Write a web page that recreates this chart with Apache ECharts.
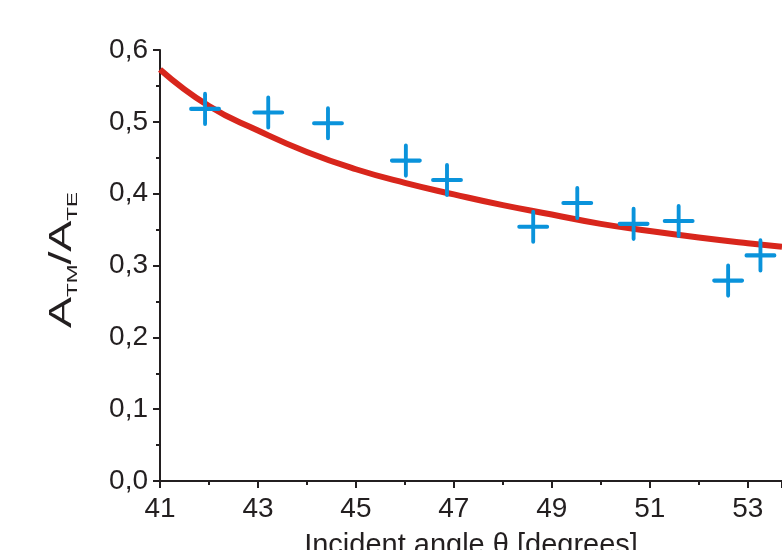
<!DOCTYPE html>
<html>
<head>
<meta charset="utf-8">
<script src="https://cdn.jsdelivr.net/npm/echarts@6/dist/echarts.min.js"></script>
<style>html,body{margin:0;padding:0;background:#fff}#c{width:782px;height:550px}</style>
</head>
<body>
<div id="c"></div>
<script>
// measured data (blue crosses)
const measAngle = [41.92, 43.21, 44.43, 46.02, 46.86, 48.62, 49.52, 50.67, 51.59, 52.60, 53.26];
const measRatio = [0.518, 0.513, 0.498, 0.446, 0.419, 0.354, 0.387, 0.358, 0.362, 0.279, 0.314];
// theoretical curve (red)
const fitAngle = [41, 42, 43, 44, 45, 46, 47, 48, 49, 50, 51, 52, 53, 53.7];
const fitRatio = [0.573, 0.522, 0.488, 0.458, 0.434, 0.415, 0.399, 0.384, 0.371, 0.358, 0.348, 0.339, 0.331, 0.326];
const xName = 'Incident angle θ [degrees]';

const chart = echarts.init(document.getElementById('c'), null, {renderer: 'canvas'});
const font = 'Liberation Sans, Arial, sans-serif';
const axisColor = '#231f20';
chart.setOption({
  animation: false,
  backgroundColor: '#ffffff',
  grid: {left: 160, right: 0, top: 50, bottom: 69, containLabel: false, outerBoundsMode: 'none'},
  xAxis: {
    type: 'value', min: 41, max: 53.7, interval: 2,
    axisLine: {show: true, onZero: false, lineStyle: {color: axisColor, width: 2}},
    axisTick: {show: true, length: 7, lineStyle: {color: axisColor, width: 2}},
    minorTick: {show: true, splitNumber: 2, length: 4, lineStyle: {color: axisColor, width: 2}},
    splitLine: {show: false},
    axisLabel: {color: axisColor, fontFamily: font, fontSize: 28, margin: 14, showMaxLabel: false,
      formatter: v => String(Math.round(v))},
    name: xName, nameLocation: 'middle', nameGap: 50,
    nameTextStyle: {color: axisColor, fontFamily: font, fontSize: 29}
  },
  yAxis: {
    type: 'value', min: 0, max: 0.6, interval: 0.1,
    axisLine: {show: true, lineStyle: {color: axisColor, width: 2}},
    axisTick: {show: true, length: 7, lineStyle: {color: axisColor, width: 2}},
    minorTick: {show: true, splitNumber: 2, length: 4, lineStyle: {color: axisColor, width: 2}},
    splitLine: {show: false},
    axisLabel: {color: axisColor, fontFamily: font, fontSize: 28, margin: 12,
      formatter: v => v.toFixed(1).replace('.', ',')}
  },
  graphic: [{
    type: 'text', x: 62, y: 260, rotation: Math.PI / 2, scaleX: 1.5,
    style: {
      text: '{a|A}{s|TM}{a|/A}{s|TE}',
      textAlign: 'center', textVerticalAlign: 'middle',
      fill: axisColor,
      rich: {
        a: {fontFamily: font, fontSize: 31, lineHeight: 36, fill: axisColor},
        s: {fontFamily: font, fontSize: 15, lineHeight: 2, verticalAlign: 'bottom', fill: axisColor}
      }
    }
  }],
  series: [{
    type: 'line', smooth: true, symbol: 'none', clip: true,
    data: fitAngle.map((x, i) => [x, fitRatio[i]]),
    lineStyle: {color: '#d8261c', width: 6},
    z: 2
  }, {
    type: 'scatter',
    data: measAngle.map((x, i) => [x, measRatio[i]]),
    symbol: 'path://M0,15H30M15,0V30',
    symbolSize: [28, 30],
    itemStyle: {color: 'rgba(0,0,0,0)', borderColor: '#0a93db', borderWidth: 4, borderCap: 'round', opacity: 1},
    emphasis: {disabled: true},
    z: 3
  }]
});
</script>
</body>
</html>
